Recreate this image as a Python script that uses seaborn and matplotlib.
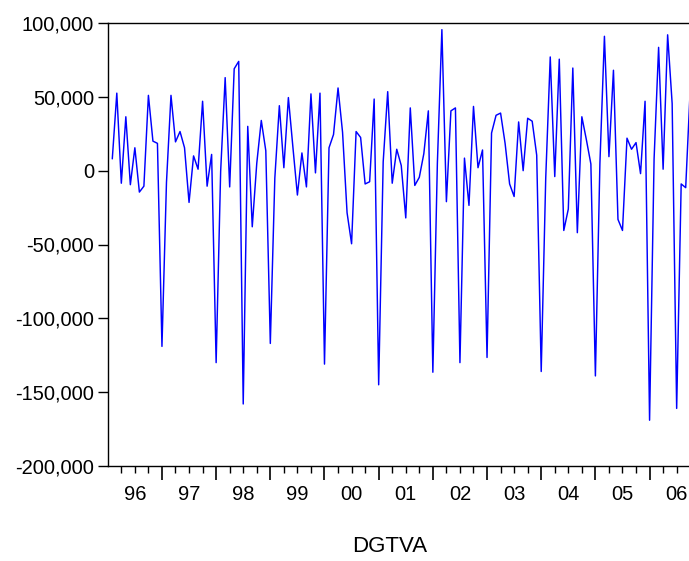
import matplotlib
matplotlib.use("Agg")
import matplotlib.pyplot as plt
import matplotlib.ticker as mticker
import seaborn as sns
import numpy as np
import pandas as pd

# Monthly observations 1996:02 .. 2006:10 (index 0 = 1996:02)
dgtva = [
    8000, 52500, -8500, 36500, -9500, 15500, -14500, -10500, 51000, 20000, 18500,
    -119000, -8000, 51000, 19500, 26500, 15500, -21500, 10000, 1000, 47000, -10500, 11000,
    -130000, -500, 63000, -11000, 69000, 74000, -158000, 30000, -38000, 5000, 34000, 13500,
    -117000, -5000, 44000, 2000, 49500, 16000, -16500, 12000, -11000, 52000, -1500, 52500,
    -131000, 15500, 24500, 56000, 26000, -28500, -49500, 26500, 22500, -9000, -7500, 48500,
    -145000, 6000, 53500, -8500, 14500, 3500, -32000, 42500, -10000, -4500, 11500, 40500,
    -136500, 5000, 95500, -21000, 40500, 42500, -130000, 8500, -23500, 43500, 2000, 14000,
    -126500, 25500, 37500, 39000, 18500, -9000, -17500, 33000, 0, 35500, 33500, 10500,
    -136000, -5000, 77000, -4000, 75500, -40500, -26000, 69500, -42000, 36500, 21000, 4500,
    -139000, 5000, 91000, 9500, 68000, -33000, -40500, 22000, 14500, 19000, -2000, 47000,
    -169000, 8000, 83500, 1000, 92000, 45500, -161000, -9000, -11500, 55000,
]
year_labels = ["96", "97", "98", "99", "00", "01", "02", "03", "04", "05", "06"]
y_ticks = [-200000, -150000, -100000, -50000, 0, 50000, 100000]
series_name = "DGTVA"

df = pd.DataFrame({"t": np.arange(len(dgtva)), "v": dgtva})

sns.set_theme(style="ticks")
plt.rcParams["font.family"] = ["Liberation Sans", "DejaVu Sans"]

W, H = 689, 561
fig = plt.figure(figsize=(W / 100, H / 100), dpi=100)
x0, x1 = 108, 700
ytop, ybot = 23, 466
ax = fig.add_axes([x0 / W, 1 - ybot / H, (x1 - x0) / W, (ybot - ytop) / H])

sns.lineplot(data=df, x="t", y="v", ax=ax, color="#0000FF", linewidth=1.05)

px_per_month = 4.515
left_k = -0.95
xlim = (left_k, left_k + (x1 - x0) / px_per_month)

# y axis
ax.set_yticks(y_ticks)
ax.yaxis.set_major_formatter(mticker.FuncFormatter(lambda v, p: f"{int(v):,}"))
ax.tick_params(axis="y", direction="out", length=7, width=1, pad=3,
               labelsize=14.5, colors="black")

# x axis: long ticks at year starts, short quarterly ticks
n_years = len(year_labels)
year_starts = [-1 + 12 * i for i in range(n_years + 1)]
quarters = [-1 + 3 * j for j in range(4 * (n_years + 1)) if j % 4 != 0]
ax.set_xticks(year_starts)
ax.set_xticklabels([""] * len(year_starts))
ax.set_xticks(quarters, minor=True)
ax.tick_params(axis="x", which="major", direction="out", length=10, width=1.2, color="black")
ax.tick_params(axis="x", which="minor", direction="out", length=5, width=1, color="black")

sec = ax.secondary_xaxis("bottom")
sec.set_xticks([5 + 12 * i for i in range(n_years)])
sec.set_xticklabels(year_labels)
sec.tick_params(axis="x", length=0, pad=13.5, labelsize=14.5, colors="black")
sec.spines["bottom"].set_visible(False)

ax.set_xlim(*xlim)
ax.set_ylim(-200000, 100000)

ax.set_xlabel("")
ax.set_ylabel("")
sec.set_xlabel(series_name, fontsize=16, color="black")
sec.xaxis.set_label_coords((390 - x0) / (x1 - x0), -(547 - ybot) / (ybot - ytop), transform=ax.transAxes)
sec.xaxis.label.set_va("center")

for s in ["left", "bottom", "top"]:
    ax.spines[s].set_color("black")
    ax.spines[s].set_linewidth(1.0)
ax.spines["right"].set_visible(False)
ax.grid(False)
ax.set_facecolor("white")

fig.savefig("out.png", dpi=100, facecolor="white")
